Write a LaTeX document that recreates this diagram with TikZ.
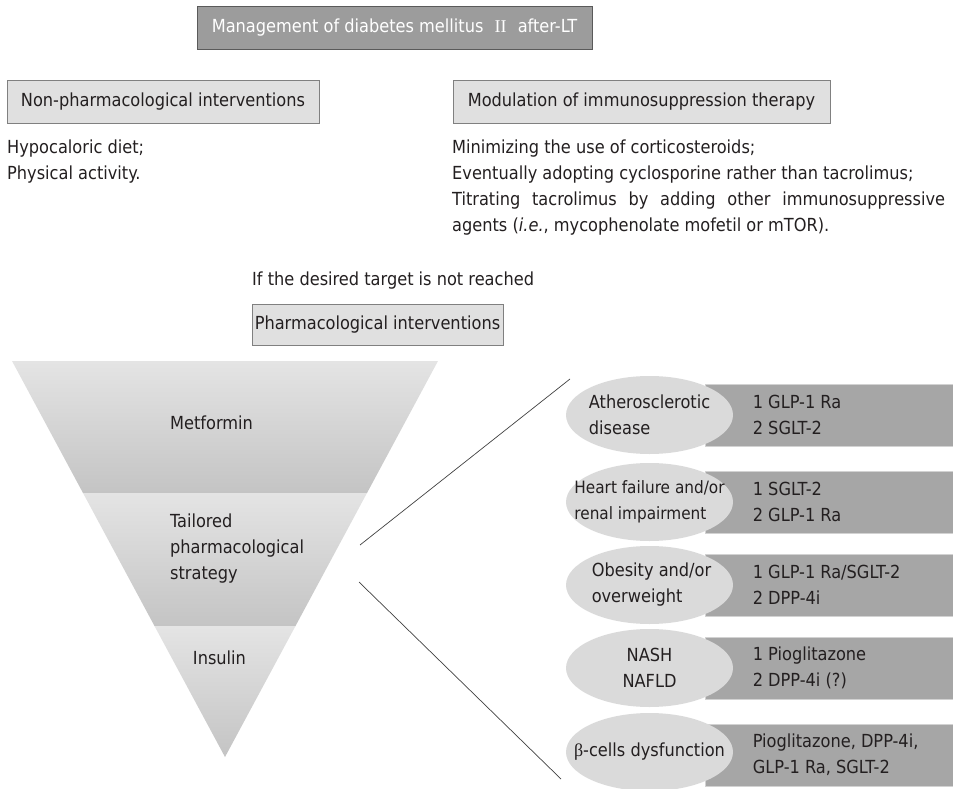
\documentclass[tikz,border=0pt]{standalone}
\usepackage{fontspec}
\setmainfont{DejaVu Sans Condensed}
\newfontfamily\serifont{Liberation Serif}
\usetikzlibrary{shapes.geometric}
\definecolor{txt}{HTML}{231F20}
\definecolor{titlefill}{HTML}{9C9C9C}
\definecolor{titledraw}{HTML}{5A5A5A}
\definecolor{lightfill}{HTML}{E0E0E0}
\definecolor{lightdraw}{HTML}{808080}
\definecolor{ellfill}{HTML}{DADADA}
\definecolor{rectfill}{HTML}{A6A6A6}
\definecolor{rectdraw}{HTML}{D2D2D2}
\definecolor{bandtop}{HTML}{E4E4E4}
\definecolor{bandbot}{HTML}{C4C4C4}
\definecolor{linec}{HTML}{404040}
\tikzset{
  basefont/.style={font=\fontsize{18}{26}\selectfont, text=txt},
  titlebox/.style={basefont, draw=titledraw, fill=titlefill, text=white, line width=0.8pt,
    minimum width=395pt, minimum height=43pt, inner sep=0pt},
  headbox/.style={basefont, draw=lightdraw, fill=lightfill, line width=0.8pt, minimum height=43pt, inner sep=0pt},
  plain/.style={basefont, inner sep=0pt, align=left},
  ellnode/.style={ellipse, fill=ellfill, minimum width=167pt, minimum height=78pt, inner sep=0pt},
  elltext/.style={basefont, inner sep=0pt},
  rectnode/.style={draw=rectdraw, fill=rectfill, line width=0.8pt, minimum width=248pt, minimum height=62pt, inner sep=0pt},
  recttext/.style={basefont, anchor=west, inner sep=0pt, align=left},
  band/.style={top color=bandtop, middle color=bandtop!97!black, bottom color=bandbot},
  conn/.style={draw=linec, line width=0.7pt}
}
\begin{document}
\begin{tikzpicture}[x=1pt,y=-1pt]
\useasboundingbox (0,0) rectangle (953,789);

% headers
\node[titlebox] (title) at (394.5,27.5) {Management of diabetes mellitus\hspace{6pt} {\serifont II}\hspace{6pt} after-LT};
\node[headbox, minimum width=312pt] (nonph) at (163,101.5) {Non-pharmacological interventions};
\node[headbox, minimum width=377pt] (modul) at (641.5,101.5) {Modulation of immunosuppression therapy};

\node[plain, anchor=north west] (nontext) at (7,140) {Hypocaloric diet;\\Physical activity.};
\node[plain, anchor=north west] (modtext) at (452,140) {Minimizing the use of corticosteroids;\\
Eventually adopting cyclosporine rather than tacrolimus;\\
\makebox[493pt][s]{Titrating tacrolimus by adding other immunosuppressive}\\
agents (\textit{i.e.}, mycophenolate mofetil or mTOR).};

\node[plain, anchor=north west] (iftext) at (252,272) {If the desired target is not reached};
\node[headbox, minimum width=251pt, minimum height=41pt] (pharm) at (377.5,324.5) {Pharmacological interventions};

% funnel
\shade[band] (12,361) -- (438,361) -- (367,493) -- (83,493) -- cycle;
\shade[band] (83,493) -- (367,493) -- (295.5,626) -- (154.5,626) -- cycle;
\shade[band] (154.5,626) -- (295.5,626) -- (225,757) -- cycle;

\node[plain, anchor=west] (metf) at (170,423) {Metformin};
\node[plain, anchor=west] (tail) at (170,549) {Tailored\\pharmacological\\strategy};
\node[plain] (insu) at (219.5,658) {Insulin};

% connectors
\coordinate (ca) at (360,545);
\coordinate (cb) at (570,379);
\coordinate (cc) at (359,582);
\coordinate (cd) at (561,779);
\draw[conn] (ca) -- (cb);
\draw[conn] (cc) -- (cd);

% rows
\node[rectnode] (r1) at (829,415) {};
\node[rectnode] (r2) at (829,502) {};
\node[rectnode] (r3) at (829,585) {};
\node[rectnode] (r4) at (829,668) {};
\node[rectnode] (r5) at (829,755) {};

\node[ellnode] (e1) at (649.5,415) {};
\node[ellnode] (e2) at (649.5,502) {};
\node[ellnode] (e3) at (649.5,585) {};
\node[ellnode] (e4) at (649.5,668) {};
\node[ellnode] (e5) at (649.5,752) {};

\node[elltext, align=left] (et1) at (e1.center) {Atherosclerotic\\disease};
\node[elltext, align=left, font=\fontsize{17}{26}\selectfont] (et2) at (e2.center) {Heart failure and/or\\renal impairment};
\node[elltext, align=left] (et3) at ([xshift=2pt]e3.center) {Obesity and/or\\overweight};
\node[elltext, align=center] (et4) at (e4.center) {NASH\\NAFLD};
\node[elltext, align=center] (et5) at (e5.center) {{\serifont β}-cells dysfunction};

\node[recttext] (t1) at ([xshift=48pt]r1.west) {1 GLP-1 Ra\\2 SGLT-2};
\node[recttext] (t2) at ([xshift=48pt]r2.west) {1 SGLT-2\\2 GLP-1 Ra};
\node[recttext] (t3) at ([xshift=48pt]r3.west) {1 GLP-1 Ra/SGLT-2\\2 DPP-4i};
\node[recttext] (t4) at ([xshift=48pt]r4.west) {1 Pioglitazone\\2 DPP-4i (?)};
\node[recttext] (t5) at ([xshift=48pt]r5.west) {Pioglitazone, DPP-4i,\\GLP-1 Ra, SGLT-2};
\end{tikzpicture}
\end{document}
